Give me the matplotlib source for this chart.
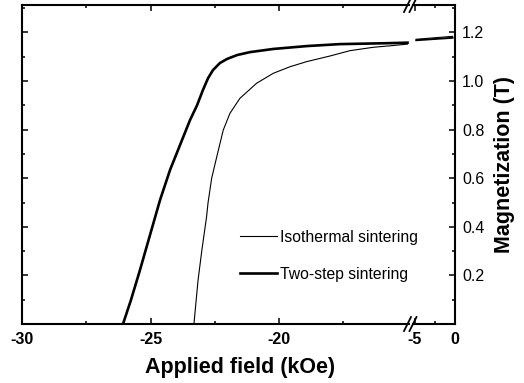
import matplotlib
matplotlib.use("Agg")
import matplotlib.pyplot as plt
from matplotlib.ticker import MultipleLocator, FixedLocator

plt.rcParams['font.family'] = ['Liberation Sans', 'DejaVu Sans']

# Two-step sintering (thick curve)
h_two = [-26.07, -25.76, -25.41, -25.02, -24.63, -24.24, -23.85, -23.46, -23.19,
         -22.96, -22.76, -22.57, -22.30, -22.02, -21.63, -21.13, -20.23, -18.91,
         -17.63, -15.68, -15.0]
m_two = [0.0, 0.099, 0.222, 0.366, 0.51, 0.634, 0.737, 0.84, 0.90,
         0.963, 1.012, 1.045, 1.074, 1.091, 1.107, 1.119, 1.132, 1.144,
         1.152, 1.156, 1.158]

# Isothermal sintering (thin curve)
h_iso = [-23.31, -23.27, -23.15, -23.0, -22.82, -22.76, -22.62, -22.42, -22.17,
         -21.91, -21.52, -20.87, -20.22, -19.57, -18.92, -18.02, -17.24, -16.33,
         -15.68, -15.0]
m_iso = [0.0, 0.045, 0.18, 0.305, 0.44, 0.50, 0.60, 0.689, 0.798,
         0.867, 0.929, 0.991, 1.032, 1.059, 1.080, 1.103, 1.125, 1.139,
         1.145, 1.152]

# segment after the axis break
h_tail = [-4.8, -0.3]
m_tail_two = [1.168, 1.178]
m_tail_iso = [1.172, 1.184]

W, H = 524, 383
fig = plt.figure(figsize=(W / 100, H / 100), dpi=100)
ax1 = fig.add_axes([22 / W, 1 - 324 / H, (409 - 22) / W, 319 / H])
ax2 = fig.add_axes([413 / W, 1 - 324 / H, (455 - 413) / W, 319 / H], sharey=ax1)
ax2.patch.set_visible(False)

ax1.plot(h_iso, m_iso, color='black', lw=0.8, label='Isothermal sintering')
ax1.plot(h_two, m_two, color='black', lw=1.9, label='Two-step sintering')
ax2.plot(h_tail, m_tail_iso, color='black', lw=0.8)
ax2.plot(h_tail, m_tail_two, color='black', lw=1.4)

ax1.set_xlim(-30, -30 + (409 - 22) / 25.7)
ax2.set_xlim(-5.2, 0)
ax1.set_ylim(0, 1.313)

ax1.xaxis.set_major_locator(FixedLocator([-30, -25, -20]))
ax1.xaxis.set_minor_locator(FixedLocator([-27.5, -22.5, -17.5]))
ax2.xaxis.set_major_locator(FixedLocator([-5, 0]))
ax2.xaxis.set_minor_locator(FixedLocator([-2.5]))
ax1.yaxis.set_major_locator(FixedLocator([0.2, 0.4, 0.6, 0.8, 1.0, 1.2]))
ax1.yaxis.set_minor_locator(MultipleLocator(0.1))
ax1.xaxis.set_major_formatter(plt.FuncFormatter(lambda v, p: '%d' % v))
ax2.xaxis.set_major_formatter(plt.FuncFormatter(lambda v, p: '%d' % v))

for ax in (ax1, ax2):
    for s in ax.spines.values():
        s.set_linewidth(1.5)
    ax.tick_params(which='both', direction='in', top=True, width=1.1)
    ax.tick_params(which='major', length=4.5, pad=6, labelsize=11.5)
    ax.tick_params(which='minor', length=2.5)
    for t in ax.get_xticklabels() + ax.get_yticklabels():
        t.set_fontweight('bold')

ax1.spines['right'].set_visible(False)
ax2.spines['left'].set_visible(False)
ax1.tick_params(axis='y', which='both', left=True, right=False, labelleft=False)
ax2.tick_params(axis='y', which='both', left=False, right=True,
                labelleft=False, labelright=True, pad=5)

# break marks "//" on bottom and top
for xc in (407.5, 413.0):
    for yc in (324, 5):
        fig.add_artist(plt.Line2D([(xc - 3.5) / W, (xc + 3.5) / W],
                                  [1 - (yc + 7) / H, 1 - (yc - 7) / H],
                                  color='black', lw=1.3))

ax1.set_xlabel('Applied field (kOe)', fontsize=15.5, fontweight='bold')
ax1.xaxis.set_label_coords((240 - 22) / (409 - 22), -0.105)
ax2.set_ylabel('Magnetization (T)', fontsize=15.5, fontweight='bold')
ax2.yaxis.set_label_position('right')
ax2.yaxis.set_label_coords((505 - 413) / 42, 0.5)
ax2.yaxis.label.set_va('center')

leg = ax1.legend(loc='upper left', bbox_to_anchor=((240 - 22) / (409 - 22), 0.295),
                 frameon=False, fontsize=11.3, handlelength=2.35, handletextpad=0.2,
                 labelspacing=1.4, borderpad=0, borderaxespad=0)

fig.savefig('out.png', dpi=100)
